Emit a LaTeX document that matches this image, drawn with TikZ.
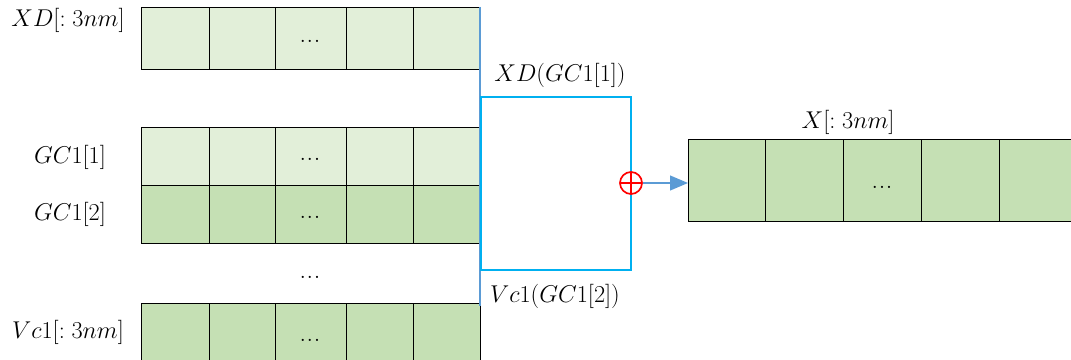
\documentclass[tikz,border=0pt]{standalone}
\usepackage{amsmath}
\usepackage{tikz}
\usetikzlibrary{arrows}

\definecolor{palegreen}{HTML}{E2EFD9}
\definecolor{midgreen}{HTML}{C5E0B4}
\definecolor{lineblue}{HTML}{5B9BD5}
\definecolor{boxcyan}{HTML}{00B0F0}

\tikzset{
  cell/.style={draw=black, line width=0.6pt},
  lbl/.style={font=\fontsize{17}{20}\selectfont},
  dots/.style={font=\normalsize}
}

\begin{document}
\begin{tikzpicture}[x=0.025cm,y=-0.025cm]
  \clip (0,0) rectangle (1071,360);
  % left arrays
  \foreach \top/\bot/\col in {7/69/palegreen, 127/185/palegreen, 185/243/midgreen, 303/372/midgreen} {
    \foreach \a/\b in {141/209,209/275,275/346,346/413,413/480}
      \draw[cell, fill=\col] (\a,\top) rectangle (\b,\bot);
    \node[dots] at (310,{(\top+\bot)/2+3}) {$\boldsymbol{\ldots}$};
  }
  \node[dots] (gap) at (310,277) {$\boldsymbol{\ldots}$};
  \node[lbl] (xd) at (68,20) {$XD[:3nm]$};
  \node[lbl] (gc1) at (70,157) {$GC1[1]$};
  \node[lbl] (gc2) at (70,214) {$GC1[2]$};
  \node[lbl] (vc) at (68,332) {$Vc1[:3nm]$};
  % result array
  \foreach \a/\b in {688/765,765/843,843/921,921/999,999/1077}
    \draw[cell, fill=midgreen] (\a,139) rectangle (\b,221);
  \node[dots] at (882,187) {$\boldsymbol{\ldots}$};
  \coordinate (xin) at (688,183);
  \node[lbl] (x) at (848,122) {$X[:3nm]$};
  % selection
  \draw[lineblue, line width=1.5pt] (480,7) -- (480,306);
  \draw[boxcyan, line width=1.5pt] (481,97) rectangle (631,270);
  \node[lbl] (top) at (560,75) {$XD(GC1[1])$};
  \node[lbl] (bot) at (555,296) {$Vc1(GC1[2])$};
  \node (plus) [circle, draw=red, line width=1.2pt, minimum size=0.55cm, inner sep=0pt,
    path picture={\draw[red, line width=1.2pt] (path picture bounding box.north) -- (path picture bounding box.south)
      (path picture bounding box.west) -- (path picture bounding box.east);}] at (631,183) {};
  \draw[lineblue, line width=2pt, -triangle 45] (plus) -- (xin);
\end{tikzpicture}
\end{document}
